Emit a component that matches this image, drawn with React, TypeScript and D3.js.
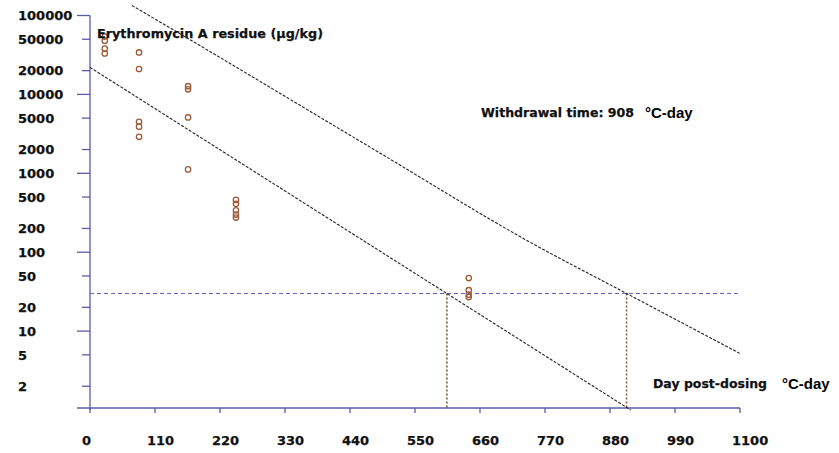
import React from "react";
import * as d3 from "d3";

const yTickValues = [100000, 50000, 20000, 10000, 5000, 2000, 1000, 500, 200, 100, 50, 20, 10, 5, 2];
const yMajor = [100000, 10000, 1000, 100, 10];
const xTickValues = [0, 110, 220, 330, 440, 550, 660, 770, 880, 990, 1100];

// observed residues: [°C-day, µg/kg]
const obsDays = [25, 25, 25, 25, 83, 83, 83, 83, 83, 166, 166, 166, 166, 247, 247, 247, 247, 247, 641, 641, 641, 641];
const obsValues = [54000, 48000, 38000, 33000, 34000, 21000, 4500, 3900, 2900, 12700, 11600, 5100, 1120, 460, 410, 340, 300, 275, 47, 33, 29, 27];

// regression line and upper tolerance limit
const regressionDays = [0, 915];
const regressionValues = [22000, 1];
const toleranceDays = [71, 135, 491, 740, 908, 1100];
const toleranceValues = [134000, 70000, 1800, 140, 30, 5.2];

const mrl = 30;
const withdrawalRegression = 604;
const withdrawalTime = 908;

export default function App() {
  const W = 839, H = 453;
  const x = d3.scaleLinear().domain([0, 1100]).range([90, 740]);
  const y = d3.scaleLog().domain([1, 100000]).range([410, 15.5]);
  const axisColor = "#5a5aa8";
  const font = "'DejaVu Sans', sans-serif";
  const tickFont = { fontFamily: font, fontWeight: "bold" as const, fontSize: 13, fill: "#111", stroke: "#111", strokeWidth: 0.25 };

  const line = d3.line<[number, number]>().x(d => x(d[0])).y(d => y(d[1]));
  const tolLine = d3.line<[number, number]>().x(d => x(d[0])).y(d => y(d[1])).curve(d3.curveMonotoneX);
  const regPts = regressionDays.map((d, i) => [d, regressionValues[i]] as [number, number]);
  const tolPts = toleranceDays.map((d, i) => [d, toleranceValues[i]] as [number, number]);
  const xAxisY = 408;

  return (
    <div style={{ position: "fixed", left: 0, top: 0 }}>
      <svg width={W} height={H} style={{ display: "block", background: "#fff" }}>
        {/* Y axis */}
        <line x1={x(0)} x2={x(0)} y1={y(100000)} y2={xAxisY + 2} stroke={axisColor} strokeWidth={1.3} />
        {yTickValues.map(v => (
          <g key={"yt" + v}>
            <line x1={yMajor.includes(v) ? 77 : 82} x2={x(0)} y1={y(v)} y2={y(v)} stroke={axisColor} strokeWidth={1.3} />
            <text x={18} y={y(v)} dy="0.36em" {...tickFont}>{v}</text>
          </g>
        ))}
        {/* X axis */}
        <line x1={77} x2={x(1100)} y1={xAxisY} y2={xAxisY} stroke={axisColor} strokeWidth={1.3} />
        {xTickValues.map(v => (
          <g key={"xt" + v}>
            <line x1={x(v)} x2={x(v)} y1={xAxisY} y2={xAxisY + 5} stroke={axisColor} strokeWidth={1.3} />
            <text x={x(v) - 8} y={445} {...tickFont}>{v}</text>
          </g>
        ))}
        {/* MRL dashed line */}
        <line x1={x(0)} x2={x(1100)} y1={y(mrl)} y2={y(mrl)} stroke="#5c5cc8" strokeWidth={1} strokeDasharray="4,3" />
        {/* vertical withdrawal lines */}
        <line x1={x(withdrawalRegression)} x2={x(withdrawalRegression)} y1={y(mrl)} y2={xAxisY} stroke="#7a5228" strokeWidth={1.5} strokeDasharray="2,2" />
        <line x1={x(withdrawalTime)} x2={x(withdrawalTime)} y1={y(mrl)} y2={xAxisY} stroke="#7a5228" strokeWidth={1.5} strokeDasharray="2,2" />
        {/* regression + tolerance lines */}
        <path d={line(regPts) || ""} fill="none" stroke="#222" strokeWidth={1.1} strokeDasharray="3,1.5" />
        <path d={tolLine(tolPts) || ""} fill="none" stroke="#222" strokeWidth={1.1} strokeDasharray="3,1.5" />
        {/* observations */}
        {obsDays.map((d, i) => (
          <circle key={"p" + i} cx={x(d)} cy={y(obsValues[i])} r={2.7} fill="none" stroke="#a05a38" strokeWidth={1.3} />
        ))}
        {/* texts */}
        <text x={97} y={38} {...tickFont} textLength={226} lengthAdjust="spacingAndGlyphs">Erythromycin A residue (µg/kg)</text>
        <text x={481} y={117} {...tickFont} textLength={153} lengthAdjust="spacingAndGlyphs">{"Withdrawal time: " + withdrawalTime}</text>
        <text x={645} y={118} fontFamily="'Liberation Sans', Arial, sans-serif" fontWeight="bold" fontSize={15} fill="#000">°C-day</text>
        <text x={653} y={388} {...tickFont} textLength={114} lengthAdjust="spacingAndGlyphs">Day post-dosing</text>
        <text x={782} y={389} fontFamily="'Liberation Sans', Arial, sans-serif" fontWeight="bold" fontSize={15} fill="#000">°C-day</text>
      </svg>
    </div>
  );
}
